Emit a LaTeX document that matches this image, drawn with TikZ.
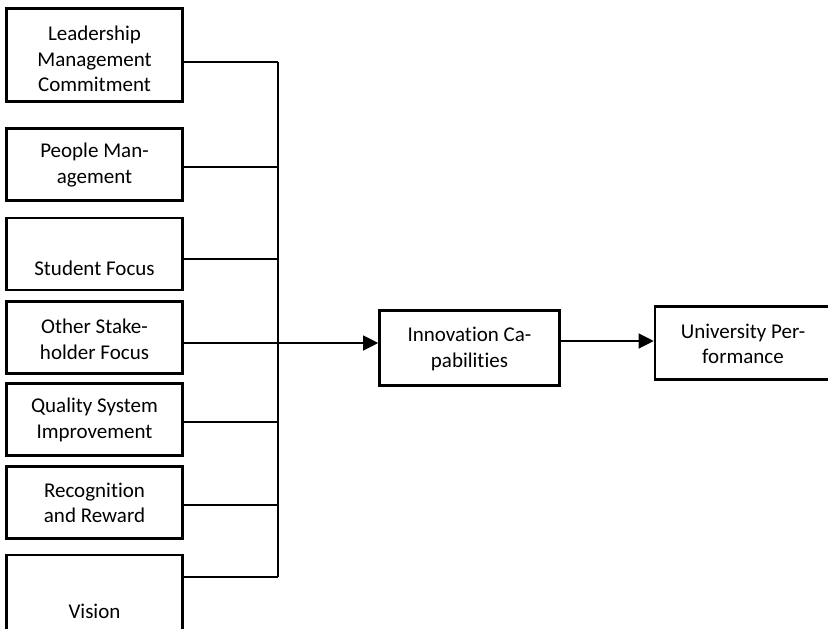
\documentclass[tikz,border=0pt]{standalone}
\usepackage{fontspec}
\setmainfont[Ligatures={NoCommon}]{Carlito}
\usetikzlibrary{arrows.meta}
\begin{document}
\begin{tikzpicture}[x=1pt,y=-1pt,
  box/.style={draw, line width=2.6pt, minimum width=176pt, minimum height=72pt, inner sep=0pt},
  txt/.style={align=center, inner sep=0pt, font=\fontsize{21}{25.6}\selectfont},
  conn/.style={line width=1.2pt},
  arr/.style={line width=1.2pt, -{Triangle[length=15pt,width=15pt]}}]
\useasboundingbox (0,0) rectangle (828,629);
\clip (0,0) rectangle (828,629);
% left boxes
\node[box, minimum height=93pt] (b1) at (94.5,55) {};
\node[box] (b2) at (94.5,164.5) {};
\node[box] (b3) at (94.5,254) {};
\node[box] (b4) at (94.5,337.5) {};
\node[box] (b5) at (94.5,419.5) {};
\node[box] (b6) at (94.5,502.5) {};
\node[box, minimum height=84pt] (b7) at (94.5,597) {};
\node[txt] (t1) at (94.5,59) {Leadership\\Management\\Commitment};
\node[txt] (t2) at (94.5,165) {People Man-\\agement};
\node[txt, anchor=base] (t3) at (94.5,275) {Student Focus};
\node[txt] (t4) at (94.5,339) {Other Stake-\\holder Focus};
\node[txt] (t5) at (94.5,420) {Quality System\\Improvement};
\node[txt] (t6) at (94.5,503) {Recognition\\and Reward};
\node[txt, anchor=base] (t7) at (94.5,618) {Vision};
% right boxes
\node[box, minimum width=180pt, minimum height=75pt] (inn) at (469.5,348) {};
\node[txt] (ti) at (469.5,349) {Innovation Ca-\\pabilities};
\node[box, minimum width=196pt, minimum height=73pt] (uni) at (753,343) {};
\node[txt] (tu) at (743,344) {University Per-\\formance};
% junctions
\coordinate (jt) at (278,62);
\coordinate (jb) at (278,577);
\coordinate (j) at (278,343);
\draw[conn] (b1.east |- jt) -- (jt);
\draw[conn] (b2.east |- 0,167) -- (278,167);
\draw[conn] (b3.east |- 0,259) -- (278,259);
\draw[conn] (b5.east |- 0,422) -- (278,422);
\draw[conn] (b6.east |- 0,505) -- (278,505);
\draw[conn] (b7.east |- jb) -- (jb);
\draw[conn] (jt) -- (jb);
\draw[arr] (b4.east |- j) -- (inn.west |- j);
\draw[arr] (inn.east |- 0,341) -- (uni.west |- 0,341);
\end{tikzpicture}
\end{document}
